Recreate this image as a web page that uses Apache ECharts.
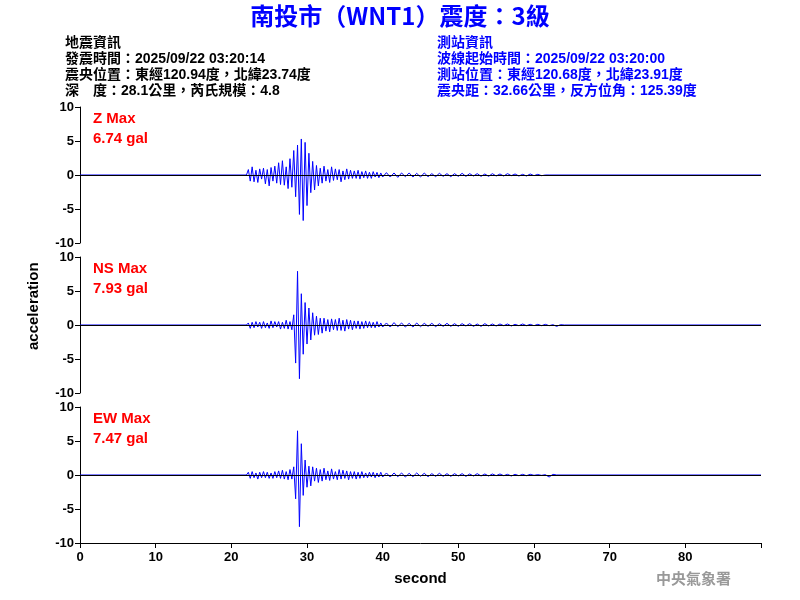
<!DOCTYPE html>
<html>
<head>
<meta charset="utf-8">
<script src="https://cdn.jsdelivr.net/npm/echarts@6/dist/echarts.min.js"></script>
<style>html,body{margin:0;background:#fff}#c{width:800px;height:600px}</style>
</head>
<body>
<div id="c"></div>
<script>
// dense part: samples every 0.25 s from 22.25 s; tail: every 0.5 s from 40.5 s
const denseStart = 22.25, denseStep = 0.25
const tailStart = 40.5, tailStep = 0.5

const zDense = [
  0.8,-0.9,1.2,-1.0,0.7,-1.1,0.9,-0.6,
  1.0,-1.3,0.8,-1.6,1.1,-0.9,1.3,-1.2,
  1.8,-1.4,2.1,-1.5,1.2,-2.0,2.4,-1.8,
  3.6,-3.2,4.4,-5.8,5.3,-6.7,4.8,-4.5,
  3.2,-2.6,2.0,-2.2,1.4,-1.6,1.0,-1.2,
  1.3,-0.9,0.8,-1.1,1.2,-0.8,0.9,-0.7,
  0.8,-1.0,0.6,-0.7,0.9,-0.6,0.7,-0.5,
  0.6,-0.5,0.7,-0.6,0.5,-0.4,0.6,-0.5,
  0.4,-0.5,0.5,-0.3,0.4,-0.4,0.3,-0.3
]
const zTail = [
  0.35,-0.3,0.3,-0.35,0.3,-0.25,0.3,-0.3,0.25,-0.3,
  0.3,-0.25,0.2,-0.25,0.25,-0.2,0.2,-0.25,0.2,-0.2,
  0.25,-0.2,0.2,-0.15,0.2,-0.2,0.15,-0.2,0.2,-0.15,
  0.15,-0.15,0.2,-0.1,0.15,-0.15,0.1,-0.15,0.15,-0.1,
  0.1,-0.1,0,0
]
const nsDense = [
  0.3,-0.5,0.4,-0.4,0.5,-0.3,0.4,-0.5,
  0.5,-0.4,0.3,-0.5,0.6,-0.4,0.5,-0.3,
  0.5,-0.6,0.4,-0.5,0.7,-0.6,0.5,-0.7,
  1.5,-5.6,7.9,-7.9,4.6,-4.3,3.3,-2.8,
  2.5,-2.2,1.8,-1.5,1.3,-1.4,1.0,-1.2,
  1.0,-0.9,0.8,-1.0,0.9,-0.7,0.8,-0.8,
  1.0,-0.8,0.7,-0.9,0.8,-0.6,0.7,-0.7,
  0.6,-0.5,0.6,-0.6,0.5,-0.5,0.6,-0.4,
  0.5,-0.4,0.4,-0.4,0.5,-0.3,0.3,-0.3
]
const nsTail = [
  0.3,-0.3,0.35,-0.25,0.3,-0.3,0.25,-0.3,0.3,-0.25,
  0.25,-0.2,0.25,-0.25,0.2,-0.2,0.25,-0.2,0.2,-0.2,
  0.2,-0.15,0.2,-0.2,0.15,-0.2,0.2,-0.15,0.15,-0.15,
  0.15,-0.1,0.15,-0.15,0.1,-0.1,0.15,-0.1,0.1,-0.1,
  0.1,-0.1,0.1,-0.1,0.05,-0.2,0.05,0
]
const ewDense = [
  0.4,-0.5,0.5,-0.4,0.3,-0.6,0.4,-0.4,
  0.5,-0.4,0.4,-0.5,0.3,-0.5,0.5,-0.4,
  0.6,-0.5,0.7,-0.6,0.5,-0.7,0.8,-0.6,
  1.2,-3.5,6.5,-7.6,4.6,-3.0,2.2,-1.8,
  1.3,-1.6,1.2,-0.9,1.0,-1.1,0.8,-0.9,
  1.0,-0.7,0.6,-0.8,0.9,-0.6,0.5,-0.7,
  0.8,-0.6,0.7,-0.5,0.6,-0.7,0.5,-0.5,
  0.5,-0.6,0.4,-0.5,0.5,-0.4,0.3,-0.4,
  0.4,-0.3,0.4,-0.4,0.3,-0.3,0.4,-0.3
]
const ewTail = [
  0.3,-0.3,0.3,-0.25,0.3,-0.3,0.25,-0.25,0.3,-0.2,
  0.25,-0.25,0.2,-0.2,0.25,-0.2,0.2,-0.2,0.2,-0.15,
  0.2,-0.2,0.15,-0.15,0.2,-0.15,0.15,-0.15,0.15,-0.1,
  0.15,-0.1,0.1,-0.15,0.1,-0.1,0.1,-0.1,0.1,-0.05,
  0.05,-0.05,0.05,-0.3,0.1,0
]

const panelLabels = [['Z Max', '6.74 gal'], ['NS Max', '7.93 gal'], ['EW Max', '7.47 gal']]
const yTicks = [-10, -5, 0, 5, 10]
const xTicks = [0, 10, 20, 30, 40, 50, 60, 70, 80]

const toPairs = function(dense, tail) {
  const out = [[0, 0], [denseStart - 0.25, 0]]
  dense.forEach((v, i) => out.push([denseStart + i * denseStep, v]))
  tail.forEach((v, i) => out.push([tailStart + i * tailStep, v]))
  out.push([90, 0])
  return out
}
const traces = [toPairs(zDense, zTail), toPairs(nsDense, nsTail), toPairs(ewDense, ewTail)]

const tops = [107, 257, 407]
const lbl = { color: '#000', fontWeight: 'bold', fontSize: 13, fontFamily: 'Liberation Sans' }

const chart = echarts.init(document.getElementById('c'))
const option = {
  animation: false,
  grid: tops.map((t) => ({ left: 80, right: 39, top: t, height: 136 })),
  xAxis: tops.map((t, i) => ({
    gridIndex: i, type: 'value', min: 0, max: 90, interval: 10,
    show: i === 2,
    axisLine: { onZero: false, lineStyle: { color: '#000' } },
    axisTick: { lineStyle: { color: '#000' } },
    splitLine: { show: false },
    axisLabel: Object.assign({}, lbl, { formatter: (v) => xTicks.includes(v) ? v : '' }),
    name: i === 2 ? 'second' : '', nameLocation: 'middle', nameGap: 28,
    nameTextStyle: { color: '#000', fontWeight: 'bold', fontSize: 15, fontFamily: 'Liberation Sans' }
  })),
  yAxis: tops.map((t, i) => ({
    gridIndex: i, type: 'value', min: -10, max: 10, interval: 5,
    axisLine: { show: true, lineStyle: { color: '#000' } },
    axisTick: { show: true, lineStyle: { color: '#000' } },
    splitLine: { show: false },
    axisLabel: Object.assign({}, lbl, { margin: 6, formatter: (v) => yTicks.includes(v) ? v : '' })
  })),
  series: traces.map((d, i) => ({
    type: 'line', xAxisIndex: i, yAxisIndex: i, data: d, symbol: 'none',
    lineStyle: { color: '#0000ff', width: 1 },
    markLine: { silent: true, symbol: 'none', label: { show: false },
      lineStyle: { color: '#000', width: 1, type: 'solid' }, data: [{ yAxis: 0 }] }
  })),
  graphic: [
    { type: 'text', left: 'center', top: 4, style: { text: '南投市（WNT1）震度：3級', fill: '#0000ff',
      font: 'bold 24px "Noto Sans CJK TC", "Liberation Sans"' } },
    { type: 'text', left: 65, top: 35, style: { fill: '#000', lineHeight: 16,
      font: 'bold 14px "Liberation Sans", "Noto Sans CJK TC"',
      text: '地震資訊\n發震時間：2025/09/22 03:20:14\n震央位置：東經120.94度，北緯23.74度\n深　度：28.1公里，芮氏規模：4.8' } },
    { type: 'text', left: 437, top: 35, style: { fill: '#0000ff', lineHeight: 16,
      font: 'bold 14px "Liberation Sans", "Noto Sans CJK TC"',
      text: '測站資訊\n波線起始時間：2025/09/22 03:20:00\n測站位置：東經120.68度，北緯23.91度\n震央距：32.66公里，反方位角：125.39度' } },
    ...panelLabels.map((p, i) => ({ type: 'text', left: 93, top: tops[i] + 2,
      style: { text: p[0] + '\n' + p[1], fill: '#ff0000', lineHeight: 20,
        font: 'bold 15px "Liberation Sans"' } })),
    { type: 'text', x: 26, y: 350, rotation: Math.PI / 2,
      style: { text: 'acceleration', fill: '#000', font: 'bold 15px "Liberation Sans"' } },
    { type: 'text', left: 656, top: 571, style: { text: '中央氣象署', fill: '#999',
      font: 'bold 15px "Noto Sans CJK TC"' } }
  ]
}
chart.setOption(option)
</script>
</body>
</html>
